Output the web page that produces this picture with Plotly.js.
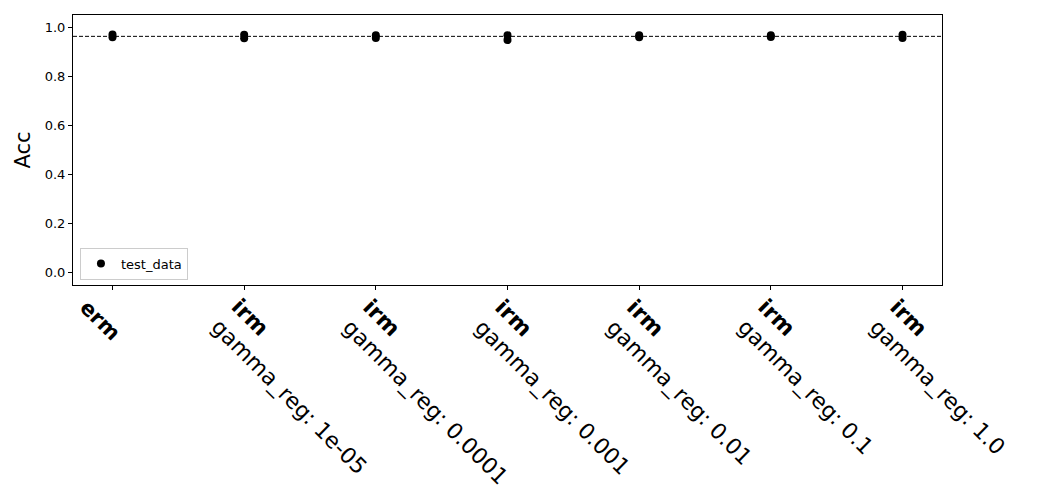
<!DOCTYPE html>
<html>
<head>
<meta charset="utf-8">
<script src="https://cdn.plot.ly/plotly-3.0.1.min.js"></script>
<style>html,body{margin:0;padding:0;background:#fff;}#chart{width:1040px;height:500px;}</style>
</head>
<body>
<div id="chart"></div>
<script>
// Data
var methods = ["erm", "irm", "irm", "irm", "irm", "irm", "irm"];
var params = ["", "gamma_reg: 1e-05", "gamma_reg: 0.0001", "gamma_reg: 0.001", "gamma_reg: 0.01", "gamma_reg: 0.1", "gamma_reg: 1.0"];
var runA = [0.971, 0.970, 0.967, 0.968, 0.968, 0.968, 0.970];
var runB = [0.959, 0.955, 0.956, 0.948, 0.959, 0.960, 0.956];
var referenceAcc = 0.963;
var yTicks = [0.0, 0.2, 0.4, 0.6, 0.8, 1.0];

var xs = [], ys = [];
[runA, runB].forEach(function (run) {
  run.forEach(function (v, i) { xs.push(i); ys.push(v); });
});

var trace = {
  type: "scatter", mode: "markers", name: "test_data",
  x: xs, y: ys,
  marker: { color: "#000000", size: 8 }
};

var annotations = methods.map(function (m, i) {
  var single = params[i] === "";
  var txt = "<b>" + m + "</b>" + (single ? "" : "<br>" + params[i]);
  return {
    xref: "x", yref: "paper", x: i, y: 0,
    xanchor: "left", yanchor: "top",
    xshift: single ? -39 : -40, yshift: single ? -9 : -8,
    text: txt, align: "left", showarrow: false, textangle: 45,
    font: { size: single ? 21 : 22, family: "DejaVu Sans", color: "#000" },
    borderpad: 0
  };
});

var layout = {
  width: 1040, height: 500,
  margin: { l: 73, r: 98, t: 15, b: 215 },
  paper_bgcolor: "#ffffff", plot_bgcolor: "#ffffff",
  font: { family: "DejaVu Sans", color: "#000000" },
  showlegend: true,
  legend: {
    x: 0.008, y: 0.02, xanchor: "left", yanchor: "bottom",
    bgcolor: "rgba(255,255,255,0.8)", bordercolor: "#cccccc", borderwidth: 1,
    font: { size: 13, family: "DejaVu Sans" }
  },
  xaxis: {
    range: [-0.3, 6.3],
    tickvals: [0, 1, 2, 3, 4, 5, 6], ticktext: ["", "", "", "", "", "", ""],
    ticks: "outside", ticklen: 4, tickcolor: "#000",
    showgrid: false, zeroline: false,
    showline: true, linecolor: "#000", linewidth: 1, mirror: true
  },
  yaxis: {
    range: [-0.05, 1.05],
    tickvals: yTicks, ticktext: yTicks.map(function (v) { return v.toFixed(1); }),
    tickfont: { size: 13, family: "DejaVu Sans" },
    ticks: "outside", ticklen: 4, tickcolor: "#000",
    showgrid: false, zeroline: false,
    showline: true, linecolor: "#000", linewidth: 1, mirror: true,
    title: { text: "Acc", font: { size: 21, family: "DejaVu Sans" }, standoff: 8 }
  },
  annotations: annotations,
  shapes: [{
    type: "line", xref: "paper", yref: "y",
    x0: 0, x1: 1, y0: referenceAcc, y1: referenceAcc,
    line: { color: "#000", width: 1, dash: "4px,2px" }
  }]
};

Plotly.newPlot("chart", [trace], layout, { displayModeBar: false, staticPlot: true });
</script>
</body>
</html>
